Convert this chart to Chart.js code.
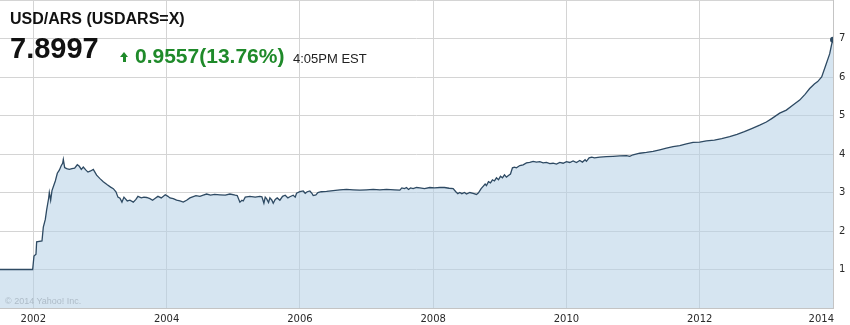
<!DOCTYPE html>
<html>
<head>
<meta charset="utf-8">
<script src="https://cdn.jsdelivr.net/npm/chart.js@4.4.1/dist/chart.umd.min.js"></script>
<style>
  html, body { margin: 0; padding: 0; background: #fff; }
  #wrap { position: relative; width: 850px; height: 325px; overflow: hidden; }
  #c { position: absolute; left: 0; top: 0; }
  .lbl { position: absolute; white-space: nowrap; line-height: 1; font-family: "Liberation Sans", Arial, sans-serif; }
  #title { left: 10px; top: 11px; font-size: 16px; font-weight: bold; color: #111; }
  #price { left: 10px; top: 33.5px; font-size: 29px; font-weight: bold; color: #111; }
  #chg { left: 135px; top: 45px; font-size: 21px; font-weight: bold; color: #1f8a2a; }
  #time { left: 293px; top: 52px; font-size: 13px; color: #222; }
  #copy { left: 5px; top: 297px; font-size: 9px; color: #aebcc8; }
  #arrHead { position: absolute; left: 120px; top: 52px; width: 0; height: 0;
    border-left: 4.5px solid transparent; border-right: 4.5px solid transparent; border-bottom: 5px solid #1f8a2a; }
  #arrStem { position: absolute; left: 123px; top: 57px; width: 3px; height: 5px; background: #1f8a2a; }
</style>
</head>
<body>
<div id="wrap">
  <canvas id="c" width="850" height="325"></canvas>
  <div class="lbl" id="title">USD/ARS (USDARS=X)</div>
  <div class="lbl" id="price">7.8997</div>
  <div id="arrHead"></div><div id="arrStem"></div>
  <div class="lbl" id="chg">0.9557(13.76%)</div>
  <div class="lbl" id="time">4:05PM EST</div>
  <div class="lbl" id="copy">© 2014 Yahoo! Inc.</div>
</div>
<script>
  // lecture des valeurs sur l'image (annee decimale, cours USD/ARS)
  const DATES = [
    2001.50, 2001.99, 2002.01, 2002.04, 2002.05, 2002.13, 2002.15, 2002.18, 2002.20, 2002.23,
    2002.24, 2002.26, 2002.28, 2002.30, 2002.33, 2002.36, 2002.39, 2002.42, 2002.44, 2002.45,
    2002.47, 2002.50, 2002.54, 2002.58, 2002.62, 2002.66, 2002.69, 2002.72, 2002.75, 2002.79,
    2002.82, 2002.86, 2002.90, 2002.95, 2003.00, 2003.05, 2003.11, 2003.16, 2003.20, 2003.24,
    2003.27, 2003.30, 2003.33, 2003.36, 2003.41, 2003.45, 2003.50, 2003.54, 2003.57, 2003.62,
    2003.66, 2003.70, 2003.75, 2003.79, 2003.83, 2003.87, 2003.92, 2003.98, 2004.02, 2004.05,
    2004.10, 2004.15, 2004.20, 2004.25, 2004.30, 2004.35, 2004.38, 2004.44, 2004.50, 2004.55,
    2004.60, 2004.66, 2004.72, 2004.80, 2004.88, 2004.95, 2005.03, 2005.06, 2005.10, 2005.13,
    2005.15, 2005.18, 2005.25, 2005.33, 2005.40, 2005.43, 2005.46, 2005.48, 2005.50, 2005.53,
    2005.55, 2005.58, 2005.60, 2005.63, 2005.66, 2005.70, 2005.74, 2005.78, 2005.82, 2005.85,
    2005.90, 2005.93, 2005.95, 2006.00, 2006.05, 2006.08, 2006.11, 2006.15, 2006.18, 2006.20,
    2006.24, 2006.27, 2006.32, 2006.40, 2006.50, 2006.60, 2006.70, 2006.80, 2006.90, 2007.00,
    2007.10, 2007.20, 2007.30, 2007.42, 2007.50, 2007.53, 2007.57, 2007.60, 2007.63, 2007.66,
    2007.70, 2007.75, 2007.80, 2007.87, 2007.95, 2008.02, 2008.10, 2008.17, 2008.24, 2008.30,
    2008.34, 2008.37, 2008.40, 2008.43, 2008.47, 2008.50, 2008.55, 2008.60, 2008.65, 2008.68,
    2008.72, 2008.75, 2008.78, 2008.80, 2008.83, 2008.86, 2008.89, 2008.92, 2008.95, 2008.98,
    2009.01, 2009.04, 2009.07, 2009.10, 2009.13, 2009.16, 2009.19, 2009.22, 2009.25, 2009.30,
    2009.35, 2009.40, 2009.45, 2009.50, 2009.55, 2009.60, 2009.65, 2009.70, 2009.75, 2009.80,
    2009.85, 2009.90, 2009.95, 2010.00, 2010.05, 2010.10, 2010.15, 2010.20, 2010.24, 2010.28,
    2010.30, 2010.34, 2010.38, 2010.42, 2010.50, 2010.60, 2010.70, 2010.80, 2010.90, 2010.95,
    2011.00, 2011.10, 2011.20, 2011.30, 2011.40, 2011.50, 2011.60, 2011.70, 2011.80, 2011.90,
    2012.00, 2012.10, 2012.22, 2012.33, 2012.45, 2012.56, 2012.67, 2012.78, 2012.90, 2013.00,
    2013.08, 2013.20, 2013.30, 2013.40, 2013.50, 2013.58, 2013.65, 2013.72, 2013.77, 2013.83,
    2013.89, 2013.95, 2013.98, 2014.00
  ];
  const RATES = [
    1.00, 1.00, 1.35, 1.40, 1.72, 1.74, 2.10, 2.30, 2.55, 2.85,
    3.00, 2.80, 3.05, 3.15, 3.30, 3.50, 3.58, 3.70, 3.76, 3.86,
    3.65, 3.62, 3.60, 3.62, 3.63, 3.72, 3.68, 3.60, 3.66, 3.58,
    3.53, 3.56, 3.60, 3.45, 3.36, 3.28, 3.20, 3.14, 3.10, 3.02,
    2.88, 2.85, 2.75, 2.88, 2.78, 2.80, 2.75, 2.82, 2.90, 2.86,
    2.88, 2.87, 2.84, 2.80, 2.85, 2.90, 2.86, 2.94, 2.90, 2.86,
    2.84, 2.80, 2.78, 2.75, 2.80, 2.86, 2.88, 2.92, 2.90, 2.93,
    2.96, 2.93, 2.95, 2.94, 2.93, 2.96, 2.93, 2.92, 2.75, 2.80,
    2.78, 2.88, 2.90, 2.88, 2.90, 2.89, 2.72, 2.88, 2.84, 2.74,
    2.86, 2.80, 2.72, 2.82, 2.86, 2.80, 2.90, 2.93, 2.86, 2.89,
    2.93, 2.88, 2.98, 3.02, 3.04, 2.98, 3.02, 3.04, 2.98, 2.92,
    2.94, 3.00, 3.02, 3.03, 3.05, 3.07, 3.08, 3.07, 3.06, 3.07,
    3.08, 3.07, 3.08, 3.07, 3.06, 3.12, 3.10, 3.13, 3.08, 3.12,
    3.10, 3.13, 3.12, 3.10, 3.13, 3.12, 3.13, 3.13, 3.11, 3.10,
    3.02, 2.97, 3.00, 2.97, 3.00, 2.96, 3.00, 2.98, 2.95, 2.99,
    3.10, 3.16, 3.22, 3.18, 3.28, 3.25, 3.33, 3.30, 3.38, 3.33,
    3.42, 3.38, 3.46, 3.40, 3.44, 3.48, 3.64, 3.66, 3.64, 3.70,
    3.72, 3.77, 3.78, 3.81, 3.79, 3.80, 3.77, 3.78, 3.75, 3.76,
    3.74, 3.78, 3.76, 3.80, 3.78, 3.82, 3.78, 3.83, 3.79, 3.85,
    3.81, 3.90, 3.92, 3.90, 3.92, 3.93, 3.94, 3.95, 3.96, 3.94,
    3.98, 4.02, 4.04, 4.07, 4.11, 4.15, 4.19, 4.22, 4.26, 4.30,
    4.31, 4.34, 4.36, 4.40, 4.45, 4.51, 4.58, 4.66, 4.75, 4.83,
    4.92, 5.06, 5.14, 5.27, 5.40, 5.55, 5.70, 5.82, 5.88, 6.00,
    6.30, 6.60, 6.85, 6.97
  ];
  const YEAR_TICKS = [2002, 2004, 2006, 2008, 2010, 2012, 2014];
  const RATE_TICKS = [0, 1, 2, 3, 4, 5, 6, 7, 8];

  const LINE = "#2e4a63";
  const GRID = "#d4d4d4";
  const AXIS_FONT = { family: "'DejaVu Sans', Verdana, sans-serif", size: 10 };

  // etiquettes des annees sous l'axe, la derniere calee a droite comme sur Yahoo
  const yearLabels = {
    id: "yearLabels",
    afterDraw(chart) {
      const sx = chart.scales.x, ctx = chart.ctx;
      ctx.save();
      ctx.font = "10px 'DejaVu Sans', Verdana, sans-serif";
      ctx.fillStyle = "#2a2a2a";
      ctx.textBaseline = "middle";
      YEAR_TICKS.forEach((y, i) => {
        const px = sx.getPixelForValue(y);
        const isLast = i === YEAR_TICKS.length - 1;
        ctx.textAlign = isLast ? "right" : "center";
        ctx.fillText(String(y), isLast ? px + 1 : px, sx.top + 11);
      });
      ctx.restore();
    }
  };

  const pts = DATES.map((d, i) => ({ x: d, y: RATES[i] }));
  const last = pts.length - 1;

  new Chart(document.getElementById("c"), {
    type: "line",
    data: {
      datasets: [{
        data: pts,
        borderColor: LINE,
        borderWidth: 1.3,
        backgroundColor: "rgba(180,208,230,0.55)",
        fill: "origin",
        tension: 0,
        pointRadius: (c) => (c.dataIndex === last ? 3 : 0),
        pointBackgroundColor: LINE,
        pointBorderWidth: 0
      }]
    },
    options: {
      responsive: false,
      animation: false,
      devicePixelRatio: 1,
      layout: { padding: 0, autoPadding: false },
      plugins: { legend: { display: false }, tooltip: { enabled: false } },
      scales: {
        x: {
          type: "linear",
          min: 2001.5,
          max: 2014,
          afterBuildTicks: (s) => { s.ticks = YEAR_TICKS.map((v) => ({ value: v })); },
          afterFit: (s) => { s.height = 17; s.paddingLeft = 0; s.paddingRight = 0; },
          ticks: { display: false },
          grid: { color: GRID, drawTicks: false },
          border: { display: true, color: "#c4c4c4" }
        },
        y: {
          position: "right",
          min: 0,
          max: 8,
          afterBuildTicks: (s) => { s.ticks = RATE_TICKS.map((v) => ({ value: v })); },
          afterFit: (s) => { s.width = 17; s.paddingTop = 0; s.paddingBottom = 0; },
          ticks: {
            padding: 6,
            color: "#2a2a2a",
            font: AXIS_FONT,
            callback: (v) => (v === 0 || v === 8 ? "" : String(v))
          },
          grid: { color: GRID, drawTicks: false },
          border: { display: true, color: "#c4c4c4" }
        }
      }
    },
    plugins: [yearLabels]
  });
</script>
</body>
</html>
